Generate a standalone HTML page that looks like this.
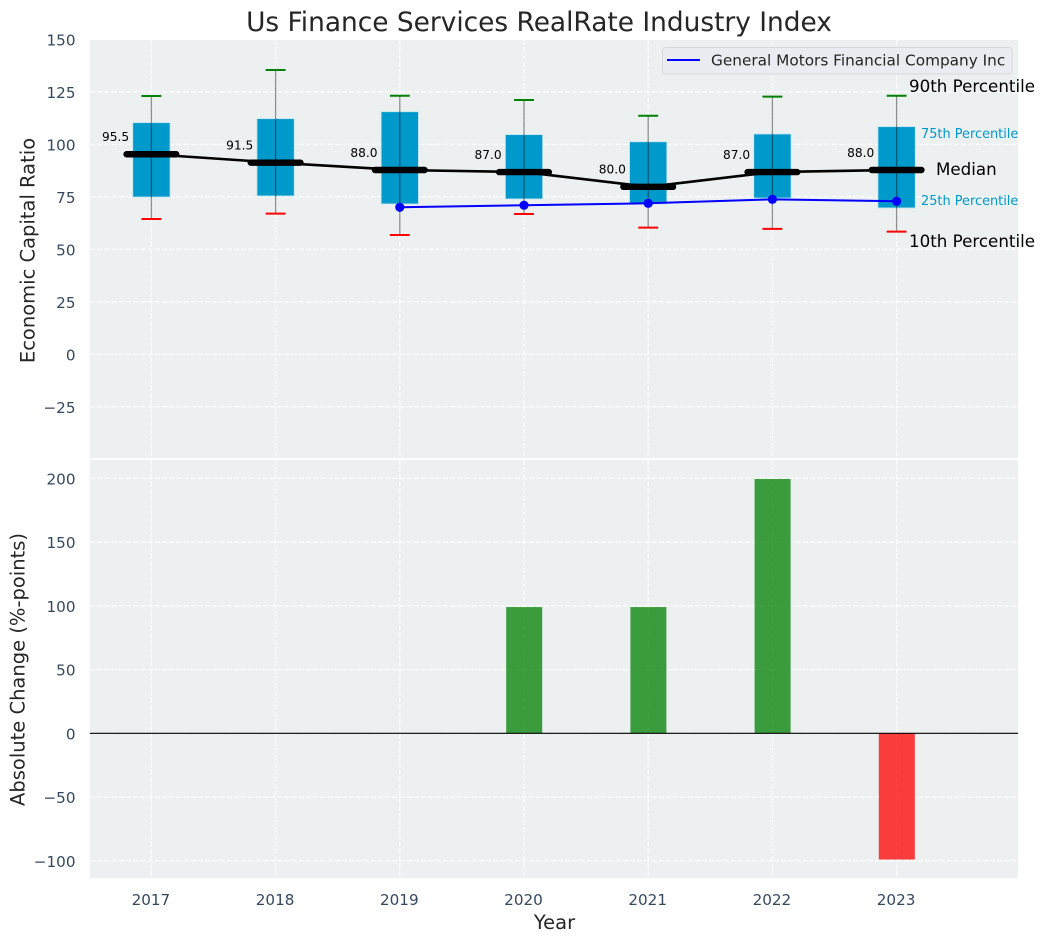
<!DOCTYPE html>
<html>
<head>
<meta charset="utf-8">
<title>Us Finance Services RealRate Industry Index</title>
<style>
html,body{margin:0;padding:0;background:#fff;}
svg{display:block;font-family:"DejaVu Sans","Liberation Sans",sans-serif;}
.tick{font-size:15.2px;fill:#34495e;}
.axis-title{font-size:19.5px;fill:#262626;}
</style>
</head>
<body>
<svg id="chart" xmlns="http://www.w3.org/2000/svg" width="1044" height="942" viewBox="0 0 1044 942">
  <rect x="0" y="0" width="1044" height="942" fill="#ffffff"/>
  <rect x="90" y="40" width="928" height="418" fill="#ecf0f1"/>
  <rect x="90" y="460" width="928" height="418" fill="#ecf0f1"/>
  <g id="grid"></g>
  <g id="boxes"></g>
  <g id="lines"></g>
  <g id="bars"></g>
  <g id="ticks"></g>
  <text x="539" y="31" text-anchor="middle" font-size="26.4" fill="#262626">Us Finance Services RealRate Industry Index</text>
  <text class="axis-title" text-anchor="middle" transform="translate(34.5,250.5) rotate(-90)">Economic Capital Ratio</text>
  <text class="axis-title" text-anchor="middle" transform="translate(24.5,669.5) rotate(-90)">Absolute Change (%-points)</text>
  <text class="axis-title" x="554.500" y="929" text-anchor="middle">Year</text>
  <g>
    <rect x="662.500" y="47.500" width="349.500" height="26.500" rx="3" fill="#ebecf1" stroke="#d8d9dc" stroke-width="1"/>
    <line x1="667" y1="60" x2="700" y2="60" stroke="#0000ff" stroke-width="2"/>
    <text x="711" y="65.500" font-size="15.3" fill="#262626">General Motors Financial Company Inc</text>
  </g>
  <g>
    <text x="909" y="92" font-size="16.700" fill="#000">90th Percentile</text>
    <text x="921" y="138" font-size="12.900" fill="#0099cc">75th Percentile</text>
    <text x="936" y="175" font-size="16.700" fill="#000">Median</text>
    <text x="921" y="205" font-size="12.900" fill="#0099cc">25th Percentile</text>
    <text x="909" y="247" font-size="16.700" fill="#000">10th Percentile</text>
  </g>
</svg>
<script>
const years = [2017, 2018, 2019, 2020, 2021, 2022, 2023];
const p90 = [123, 135.4, 123.1, 121.1, 113.6, 122.7, 123.1];
const p75 = [110.3, 112.2, 115.5, 104.6, 101.2, 104.9, 108.4];
const medians = [95.5, 91.5, 88, 87, 80, 87, 88];
const p25 = [74.9, 75.4, 71.6, 74, 71.6, 74.4, 69.7];
const p10 = [64.4, 67, 56.8, 66.8, 60.3, 59.7, 58.4];
const companyYears = [2019, 2020, 2021, 2022, 2023];
const companyValues = [70, 71, 71.9, 73.8, 72.9];
const changes = [0, 0, 0, 99, 99, 199.5, -99];
const upperTicks = [150, 125, 100, 75, 50, 25, 0, -25];
const lowerTicks = [200, 150, 100, 50, 0, -50, -100];

const NS = 'http://www.w3.org/2000/svg';
const X = y => 151.4 + 124.2 * (y - 2017);
const YU = v => 354.3 - 2.1 * v;
const YL = v => 733.3 - 1.275 * v;
const YEAR_PX = 124.2;

function mk(parent, tag, attrs, text) {
  const el = document.createElementNS(NS, tag);
  for (const k in attrs) el.setAttribute(k, attrs[k]);
  if (text !== undefined) el.textContent = text;
  parent.appendChild(el);
  return el;
}
const grid = document.getElementById('grid');
const boxes = document.getElementById('boxes');
const lines = document.getElementById('lines');
const bars = document.getElementById('bars');
const ticks = document.getElementById('ticks');
const fmt = v => String(v).replace('-', '\u2212');
const gridStyle = {stroke: '#ffffff', 'stroke-width': 1.1, 'stroke-dasharray': '5 2.2', fill: 'none'};

upperTicks.forEach(v => {
  if (v < 150) {
    const line = mk(grid, 'line', Object.assign({x1: 90, x2: 1018, y1: YU(v), y2: YU(v)}, gridStyle));
    
    
  }
  const label = mk(ticks, 'text', {class: 'tick', x: 75.5, y: YU(v) + 6.2, 'text-anchor': 'end'}, fmt(v));
  
  
});
lowerTicks.forEach(v => {
  const line = mk(grid, 'line', Object.assign({x1: 90, x2: 1018, y1: YL(v), y2: YL(v)}, gridStyle));
  
  
  const label = mk(ticks, 'text', {class: 'tick', x: 75.5, y: YL(v) + 6, 'text-anchor': 'end'}, fmt(v));
  
  
});
years.forEach(y => {
  const upper = mk(grid, 'line', Object.assign({x1: X(y), x2: X(y), y1: 40, y2: 458}, gridStyle));
  
  
  const lower = mk(grid, 'line', Object.assign({x1: X(y), x2: X(y), y1: 460, y2: 878}, gridStyle));
  
  
  const label = mk(ticks, 'text', {class: 'tick', x: X(y) - 0.5, y: 904.8, 'text-anchor': 'middle'}, String(y));
  
  
});

const BOX_W = 0.3 * YEAR_PX;
const CAP_W = 0.16 * YEAR_PX;
const MED_W = 0.4 * YEAR_PX;

years.forEach((y, i) => {
  const cx = X(y);
  const box = mk(boxes, 'rect', {x: cx - BOX_W / 2, y: YU(p75[i]), width: BOX_W, height: YU(p25[i]) - YU(p75[i]), fill: '#0099cc', stroke: '#c0e3ef', 'stroke-width': 0.8});
  
  
  const whisker = mk(boxes, 'line', {x1: cx, x2: cx, y1: YU(p90[i]), y2: YU(p10[i]), stroke: '#000000', 'stroke-opacity': 0.42, 'stroke-width': 1.3});
  
  
  const capTop = mk(boxes, 'line', {x1: cx - CAP_W / 2, x2: cx + CAP_W / 2, y1: YU(p90[i]), y2: YU(p90[i]), stroke: '#008000', 'stroke-width': 2});
  
  
  const capBottom = mk(boxes, 'line', {x1: cx - CAP_W / 2, x2: cx + CAP_W / 2, y1: YU(p10[i]), y2: YU(p10[i]), stroke: '#ff0000', 'stroke-width': 2});
  
  
});

const medianPath = mk(lines, 'polyline', {points: years.map((y, i) => X(y) + ',' + (YU(medians[i]) + 0.5)).join(' '), fill: 'none', stroke: '#000000', 'stroke-width': 2.6});



years.forEach((y, i) => {
  const cx = X(y);
  const seg = mk(lines, 'line', {x1: cx - MED_W / 2, x2: cx + MED_W / 2, y1: YU(medians[i]) + 0.5, y2: YU(medians[i]) + 0.5, stroke: '#000000', 'stroke-width': 6.4, 'stroke-linecap': 'round'});
  
  
  const val = mk(lines, 'text', {x: cx - 22.3, y: YU(medians[i]) - 12.6, 'text-anchor': 'end', 'font-size': 12.2, fill: '#000'}, medians[i].toFixed(1));
  
  
});

const companyPath = mk(lines, 'polyline', {points: companyYears.map((y, i) => X(y) + ',' + YU(companyValues[i])).join(' '), fill: 'none', stroke: '#0000ff', 'stroke-width': 2});


companyYears.forEach((y, i) => {
  const dot = mk(lines, 'circle', {cx: X(y), cy: YU(companyValues[i]), r: 4.6, fill: '#0000ff'});
  
  
});

const BAR_W = 0.29 * YEAR_PX;
years.forEach((y, i) => {
  const v = changes[i];
  const bar = mk(bars, 'rect', {x: X(y) - BAR_W / 2 + 0.2, y: Math.min(YL(v), YL(0)), width: BAR_W, height: Math.abs(YL(v) - YL(0)), fill: v >= 0 ? '#008000' : '#ff0000', 'fill-opacity': 0.75});
  
  
});
const zero = mk(bars, 'line', {x1: 90, x2: 1018, y1: YL(0), y2: YL(0), stroke: '#000000', 'stroke-width': 1.2});


</script>
</body>
</html>
